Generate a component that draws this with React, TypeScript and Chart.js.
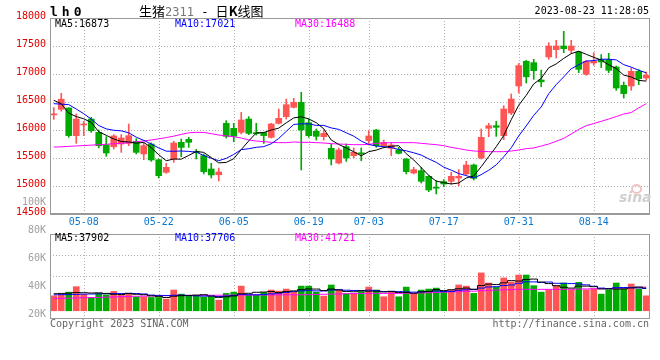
import React, { useEffect, useRef } from 'react';
import { Chart, registerables } from 'chart.js';

Chart.register(...registerables);

const MONO = '"DejaVu Sans Mono", monospace';
const CJK = '"Noto Sans CJK SC", sans-serif';

// ---------- data ----------
const xTickIndex = [4, 14, 24, 34, 42, 52, 62, 72];
const xTickLabels = ['05-08', '05-22', '06-05', '06-19', '07-03', '07-17', '07-31', '08-14'];

const priceOpen = [16270,16370,16393,15899,16090,16196,15958,15738,15702,15750,
 15762,15798,15572,15750,15470,15244,15482,15780,15833,15610,
 15542,15304,15200,16119,16030,15958,16196,15955,15955,15869,
 16119,16238,16405,16494,16131,15976,15881,15673,15411,15702,
 15542,15590,15810,16000,15720,15673,15643,15482,15232,15274,
 15173,14970,15078,15084,15143,15215,15375,15500,16030,16077,
 15899,16303,16786,17227,17203,16893,17304,17435,17500,17423,
 17393,16995,17197,17257,17257,17125,16798,16786,17048,16929];

const priceHigh = [16400,16655,16400,16286,16155,16226,16000,15881,15917,15917,
 16107,15845,15780,15770,15482,15405,15798,15839,15869,15655,
 15572,15405,15320,16167,16119,16315,16238,16120,15960,16119,
 16375,16553,16565,16672,16196,16018,16000,15750,15679,15750,
 15679,15679,15988,16010,15821,15780,15690,15490,15334,15334,
 15185,15096,15114,15244,15292,15441,15393,16018,16119,16155,
 16434,16643,17186,17245,17262,17071,17560,17602,17762,17602,
 17405,17240,17381,17346,17369,17143,16857,17107,17078,17036];

const priceLow = [16190,16335,15870,15762,15900,15958,15680,15530,15661,15601,
 15720,15572,15470,15440,15143,15226,15423,15524,15690,15482,
 15215,15143,15090,15857,15792,15929,15917,15910,15760,15857,
 16107,16196,16393,15286,15869,15821,15821,15375,15393,15440,
 15500,15453,15732,15690,15679,15542,15572,15215,15215,15054,
 14899,14858,14988,15036,15006,15203,15108,15482,15881,15887,
 15827,16274,16661,16839,16905,16775,17262,17286,17381,17369,
 17024,16977,17155,17114,17025,16709,16571,16709,16810,16887];

const priceClose = [16280,16550,15900,16196,16100,15988,15720,15589,15893,15857,
 15899,15601,15720,15465,15185,15333,15768,15690,15780,15595,
 15256,15197,15250,15887,15887,16179,15940,15935,15900,16107,
 16208,16452,16494,16000,15899,15887,15940,15482,15643,15500,
 15601,15575,15893,15720,15780,15732,15583,15256,15292,15084,
 14929,14960,15036,15173,15173,15375,15137,15869,16077,16048,
 16375,16553,17150,16950,17060,16860,17500,17500,17452,17500,
 17083,17227,17227,17214,17066,16750,16650,17048,16917,16977];

const priceMA5 = [16530,16470,16300,16240,16200,16135,15970,15905,15840,15795,
 15786,15765,15778,15685,15558,15451,15482,15479,15546,15617,
 15600,15508,15413,15421,15488,15650,15805,15948,15954,16000,
 16033,16128,16216,16236,16198,16130,16022,15821,15742,15680,
 15611,15540,15613,15641,15687,15710,15720,15577,15465,15330,
 15190,15087,15060,15036,15054,15143,15179,15345,15526,15701,
 15901,16184,16443,16619,16823,16922,17112,17180,17279,17364,
 17407,17352,17298,17250,17163,17097,16981,16946,16886,16873];

const priceMA10 = [16470,16462,16453,16375,16290,16195,16080,16020,15995,15985,
 15950,15872,15815,15750,15680,15622,15620,15625,15618,15604,
 15545,15495,15452,15494,15564,15649,15666,15691,15703,15754,
 15849,15975,16099,16110,16111,16082,16082,16037,16011,15951,
 15890,15802,15742,15714,15702,15687,15651,15628,15593,15552,
 15484,15423,15337,15283,15222,15186,15142,15203,15281,15378,
 15522,15682,15894,16073,16262,16412,16648,16811,16949,17094,
 17165,17232,17239,17264,17264,17252,17167,17122,17068,17021];

const priceMA30 = [15695,15700,15708,15715,15722,15730,15737,15745,15755,15763,
 15772,15790,15805,15822,15842,15865,15890,15922,15950,15958,
 15956,15935,15910,15895,15880,15857,15822,15803,15792,15780,
 15774,15774,15786,15780,15780,15774,15768,15756,15750,15744,
 15738,15738,15744,15762,15768,15774,15774,15774,15774,15762,
 15750,15738,15720,15690,15667,15643,15625,15619,15613,15613,
 15613,15625,15643,15667,15679,15714,15750,15798,15850,15930,
 16010,16077,16115,16155,16196,16240,16286,16312,16395,16470];

const volume = [33300,34300,35900,39800,34300,32100,35000,34000,36400,34000,
 35000,32600,32600,32100,32100,30900,37400,34500,33100,33100,
 32400,32400,30200,35000,35900,40200,34000,34000,35700,37400,
 36700,38100,35900,40200,40200,35900,33100,41000,37400,34800,
 34800,36400,39500,37400,32600,36400,32600,39500,34500,37400,
 38100,38800,36400,37400,41000,40200,35000,49600,42400,39300,
 46000,43100,48100,48100,40500,35900,37600,40500,42400,37600,
 42900,37600,38300,34500,37600,42400,38300,41700,38100,33300];

const volMA5 = [34800,35000,35200,35600,35500,35300,35400,35000,34400,34300,
 34900,34400,34100,33300,32900,32100,33000,33400,33600,33800,
 34100,33100,32200,32600,33200,34700,35100,35800,36000,36300,
 35600,36400,36800,37700,38200,38100,37100,38100,37500,36400,
 36200,36900,36600,36600,36100,36500,35700,35700,35100,36100,
 36400,37700,37000,37600,38300,38800,38000,40600,41600,41300,
 42500,44100,43800,44900,45200,43100,42000,40500,39400,38800,
 40200,40200,39800,38200,38200,38100,38200,38900,39600,38800];

const volMA10 = [34000,34100,34200,34300,34500,34600,34700,34800,34900,34900,
 35100,34900,34600,33800,33600,33500,33700,33800,33400,33300,
 33100,33100,32800,33100,33500,34400,34100,34000,34300,34700,
 35200,35700,36300,36800,37200,36800,36700,37400,37600,37300,
 37100,37000,37300,37100,36300,36300,36300,36100,35900,36100,
 36400,36700,36400,36400,37200,37600,37800,38800,39600,39800,
 40600,41000,42200,43300,43200,42800,43100,42200,42200,42000,
 41700,41100,40100,38800,38500,39100,39200,39300,38900,38500];

const volMA30 = [31400,31500,31600,31700,31900,32000,32100,32300,32500,32700,
 32800,33000,33100,33200,33300,33400,33500,33500,33600,33600,
 33600,33700,33700,33700,33800,33800,33800,33900,33900,33900,
 34000,34000,34000,34000,34100,34200,34400,34500,34600,34800,
 34900,35000,35000,35000,35000,35000,35000,35100,35200,35400,
 35500,35700,35900,36100,36200,36400,36600,36900,37100,37400,
 37500,37700,37900,37900,37900,37900,37900,37900,37900,38000,
 38100,38200,38300,38400,38500,38700,38800,39000,39200,39500];

const volTickValues = [100000, 80000, 60000, 40000, 20000];
const volTickLabels = ['100K', '80K', '60K', '40K', '20K'];

const priceMALabels = ['MA5:16873', 'MA10:17021', 'MA30:16488'];
const volMALabels = ['MA5:37902', 'MA10:37706', 'MA30:41721'];

// ---------- styles ----------
const UP = '#ff5555';
const DOWN = '#00aa00';
const MA_COLORS = ['#000000', '#0000ff', '#ff00ff'];
const GRID_COLOR = '#b0b0b0';
const FRAME_COLOR = '#999999';

const candleColors = priceOpen.map((o, i) => (priceClose[i] >= o ? UP : DOWN));

function gridFrame(yIds: string[], bottomWidth: number) {
  return {
    id: 'gridFrame',
    beforeDatasetsDraw(chart: any) {
      const { ctx, chartArea: a } = chart;
      ctx.save();
      ctx.strokeStyle = GRID_COLOR;
      ctx.lineWidth = 1;
      ctx.setLineDash([1, 2]);
      const xs = chart.scales.x;
      for (const t of xs.ticks) {
        const px = Math.round(xs.getPixelForValue(t.value)) + 0.5;
        ctx.beginPath();
        ctx.moveTo(px, a.top);
        ctx.lineTo(px, a.bottom);
        ctx.stroke();
      }
      for (const id of yIds) {
        const ys = chart.scales[id];
        for (const t of ys.ticks) {
          if (t.value <= ys.min || t.value >= ys.max) continue;
          const py = Math.round(ys.getPixelForValue(t.value)) + 0.5;
          ctx.beginPath();
          ctx.moveTo(a.left, py);
          ctx.lineTo(a.right, py);
          ctx.stroke();
        }
      }
      ctx.restore();
    },
    afterDatasetsDraw(chart: any) {
      const { ctx, chartArea: a } = chart;
      ctx.save();
      ctx.setLineDash([]);
      ctx.strokeStyle = FRAME_COLOR;
      ctx.lineWidth = 1;
      const l = Math.round(a.left) + 0.5;
      const r = Math.round(a.right) + 0.5;
      const t = Math.round(a.top) + 0.5;
      const b = Math.round(a.bottom) + 0.5;
      ctx.strokeRect(l, t, r - l, b - t);
      if (bottomWidth > 1) {
        ctx.lineWidth = bottomWidth;
        ctx.beginPath();
        ctx.moveTo(l, Math.round(a.bottom));
        ctx.lineTo(r, Math.round(a.bottom));
        ctx.stroke();
      }
      ctx.restore();
    },
  };
}

const xScaleBase = {
  type: 'linear',
  min: -0.5,
  max: 79.37,
  offset: false,
  afterBuildTicks: (s: any) => {
    s.ticks = xTickIndex.map((v) => ({ value: v }));
  },
  grid: { display: false, drawTicks: false },
  border: { display: false },
};

function lineDs(label: string, values: number[], color: string, yAxisID: string, stepped: any) {
  return {
    type: 'line',
    label,
    data: values.map((v, i) => ({ x: i, y: v })),
    borderColor: color,
    borderWidth: 1,
    pointRadius: 0,
    tension: 0,
    stepped,
    fill: false,
    yAxisID,
    order: 0,
  };
}

const commonOpts = {
  responsive: false,
  animation: false,
  events: [],
  plugins: { legend: { display: false }, tooltip: { enabled: false }, title: { display: false } },
};

function priceConfig(): any {
  return {
    type: 'bar',
    data: {
      datasets: [
        lineDs('MA5', priceMA5, MA_COLORS[0], 'y', false),
        lineDs('MA10', priceMA10, MA_COLORS[1], 'y', false),
        lineDs('MA30', priceMA30, MA_COLORS[2], 'y', false),
        {
          type: 'bar',
          label: 'body',
          data: priceOpen.map((o, i) => ({ x: i, y: [o, priceClose[i]] })),
          backgroundColor: candleColors,
          borderWidth: 0,
          barThickness: 6,
          minBarLength: 1,
          grouped: false,
          yAxisID: 'y',
          order: 1,
        },
        {
          type: 'bar',
          label: 'wick',
          data: priceLow.map((l, i) => ({ x: i, y: [l, priceHigh[i]] })),
          backgroundColor: candleColors,
          borderWidth: 0,
          barThickness: 1,
          grouped: false,
          yAxisID: 'y',
          order: 2,
        },
      ],
    },
    options: {
      ...commonOpts,
      layout: { padding: { left: 0, right: 11, top: 18, bottom: 0 } },
      scales: {
        x: {
          ...xScaleBase,
          afterFit: (s: any) => {
            s.height = 18;
          },
          ticks: {
            autoSkip: false,
            maxRotation: 0,
            padding: 2,
            color: '#0a78d2',
            font: { family: MONO, size: 10 },
            callback: (_v: any, idx: number) => xTickLabels[idx],
          },
        },
        y: {
          type: 'linear',
          position: 'left',
          min: 14500,
          max: 18000,
          beginAtZero: false,
          afterFit: (s: any) => {
            s.width = 50;
          },
          ticks: {
            stepSize: 500,
            autoSkip: false,
            padding: 4,
            labelOffset: -2,
            color: '#e00000',
            font: { family: MONO, size: 10 },
            callback: (v: any) => String(v),
          },
          grid: { display: false, drawTicks: false },
          border: { display: false },
        },
      },
    },
    plugins: [gridFrame(['y'], 2)],
  };
}

function volConfig(): any {
  return {
    type: 'bar',
    data: {
      datasets: [
        lineDs('VMA5', volMA5, MA_COLORS[0], 'yv', 'middle'),
        lineDs('VMA10', volMA10, MA_COLORS[1], 'yv', 'middle'),
        lineDs('VMA30', volMA30, MA_COLORS[2], 'yv', 'middle'),
        {
          type: 'bar',
          label: 'volume',
          data: volume.map((v, i) => ({ x: i, y: v })),
          backgroundColor: candleColors,
          borderWidth: 0,
          barThickness: 6,
          base: 22650,
          grouped: false,
          yAxisID: 'yv',
          order: 1,
        },
      ],
    },
    options: {
      ...commonOpts,
      layout: { padding: { left: 0, right: 11, top: 46, bottom: 42 } },
      scales: {
        x: { ...xScaleBase, display: false },
        yv: {
          type: 'linear',
          position: 'left',
          min: 17500,
          max: 77300,
          beginAtZero: false,
          afterBuildTicks: (s: any) => {
            s.ticks = volTickValues.map((v) => ({ value: v }));
          },
          afterFit: (s: any) => {
            s.width = 50;
          },
          ticks: {
            autoSkip: false,
            padding: 4,
            color: '#a0a0a0',
            font: { family: MONO, size: 10 },
            callback: (_v: any, idx: number) => volTickLabels[idx],
          },
          grid: { display: false, drawTicks: false },
          border: { display: false },
        },
        yg: {
          type: 'linear',
          display: false,
          min: 0,
          max: 4,
          ticks: { stepSize: 1 },
        },
      },
    },
    plugins: [gridFrame(['yg'], 1)],
  };
}

const txt = (extra: any): any => ({
  position: 'absolute',
  fontFamily: MONO,
  fontSize: 10,
  lineHeight: '12px',
  whiteSpace: 'pre',
  ...extra,
});

export default function App() {
  const priceRef = useRef<HTMLCanvasElement>(null);
  const volRef = useRef<HTMLCanvasElement>(null);

  useEffect(() => {
    Chart.defaults.font.family = MONO;
    const c1 = new Chart(priceRef.current as HTMLCanvasElement, priceConfig());
    const c2 = new Chart(volRef.current as HTMLCanvasElement, volConfig());
    return () => {
      c1.destroy();
      c2.destroy();
    };
  }, []);

  const maX = [55, 175, 295];

  return (
    <div
      style={{
        position: 'fixed',
        left: 0,
        top: 0,
        width: 660,
        height: 360,
        background: '#ffffff',
        overflow: 'hidden',
      }}
    >
      <canvas ref={priceRef} width={660} height={232} style={{ position: 'absolute', left: 0, top: 0 }} />
      <canvas ref={volRef} width={660} height={172} style={{ position: 'absolute', left: 0, top: 188 }} />

      <div style={txt({ left: 50, top: 4, fontSize: 13, lineHeight: '15px', fontWeight: 'bold', letterSpacing: '4px', color: '#000' })}>lh0</div>
      <div style={txt({ left: 139, top: 3, lineHeight: '16px', fontSize: 12, color: '#000' })}>
        <span style={{ fontFamily: CJK, fontSize: 13 }}>生猪</span>
        <span style={{ color: '#777' }}>2311</span>
        <span> - </span>
        <span style={{ fontFamily: CJK, fontSize: 13 }}>
          日<b>K</b>线图
        </span>
      </div>
      <div style={txt({ right: 11, top: 5, color: '#000' })}>2023-08-23 11:28:05</div>

      {priceMALabels.map((s, i) => (
        <div key={'p' + i} style={txt({ left: maX[i], top: 18, color: MA_COLORS[i] })}>
          {s}
        </div>
      ))}
      {volMALabels.map((s, i) => (
        <div key={'v' + i} style={txt({ left: maX[i], top: 232, color: MA_COLORS[i] })}>
          {s}
        </div>
      ))}

      <div
        style={txt({
          left: 619,
          top: 189,
          fontFamily: '"DejaVu Sans", sans-serif',
          fontSize: 14,
          lineHeight: '16px',
          fontStyle: 'italic',
          fontWeight: 'bold',
          color: '#cfcfcf',
        })}
      >
        sina
      </div>
      <div
        style={{
          position: 'absolute',
          left: 631,
          top: 184,
          width: 7,
          height: 6,
          borderRadius: '50%',
          border: '2px solid #efc4c4',
        }}
      />

      <div style={txt({ left: 50, top: 318, color: '#666' })}>Copyright 2023 SINA.COM</div>
      <div style={txt({ right: 11, top: 318, color: '#666' })}>http://finance.sina.com.cn</div>
    </div>
  );
}
